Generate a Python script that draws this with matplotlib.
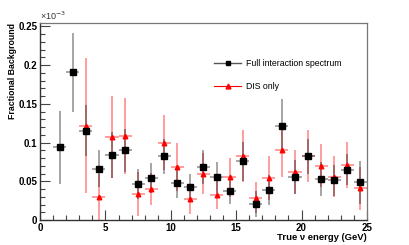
import numpy as np
import matplotlib
matplotlib.use("Agg")
import matplotlib.pyplot as plt
from matplotlib.ticker import MultipleLocator
from matplotlib.lines import Line2D

# data (values in units of 1e-3)
bins = [1.5, 2.5, 3.5, 4.5, 5.5, 6.5, 7.5, 8.5, 9.5, 10.5, 11.5, 12.5,
        13.5, 14.5, 15.5, 16.5, 17.5, 18.5, 19.5, 20.5, 21.5, 22.5, 23.5, 24.5]
full_vals = [0.094, 0.191, 0.115, 0.066, 0.084, 0.090, 0.0465, 0.054, 0.082, 0.048, 0.042, 0.0685,
             0.055, 0.0375, 0.076, 0.021, 0.039, 0.122, 0.0556, 0.082, 0.053, 0.0513, 0.065, 0.0487]
full_errs = [0.047, 0.051, 0.033, 0.024, 0.030, 0.028, 0.019, 0.019, 0.022, 0.020, 0.018, 0.022,
             0.020, 0.017, 0.025, 0.017, 0.019, 0.034, 0.022, 0.022, 0.022, 0.020, 0.020, 0.028]
dis_vals = [np.nan, np.nan, 0.122, 0.030, 0.107, 0.1085, 0.0336, 0.040, 0.100, 0.069, 0.027, 0.060,
            0.032, 0.055, 0.0827, 0.029, 0.054, 0.090, 0.062, 0.0827, 0.070, 0.056, 0.0707, 0.041]
dis_errs = [np.nan, np.nan, 0.087, 0.030, 0.053, 0.049, 0.028, 0.021, 0.035, 0.031, 0.019, 0.026,
            0.018, 0.025, 0.034, 0.020, 0.028, 0.034, 0.028, 0.033, 0.028, 0.026, 0.030, 0.028]
bin_half = 0.5

plt.rcParams['font.family'] = ['Liberation Sans', 'DejaVu Sans']

fig = plt.figure(figsize=(4.09, 2.45), dpi=100)
ax = fig.add_axes([0.098, 0.102, 0.799, 0.803])

# DIS only (red)
ax.errorbar(bins, dis_vals, yerr=dis_errs, xerr=bin_half, fmt='none',
            ecolor=(1, 0, 0, 0.45), elinewidth=1.2, capsize=0, zorder=2)
ax.plot(bins, dis_vals, linestyle='none', marker='^', color='red', markersize=3.3, zorder=4)

# Full interaction spectrum (black)
ax.errorbar(bins, full_vals, yerr=full_errs, xerr=bin_half, fmt='none',
            ecolor=(0, 0, 0, 0.38), elinewidth=1.3, capsize=0, zorder=3)
ax.plot(bins, full_vals, linestyle='none', marker='s', color='black', markersize=4, zorder=5)

ax.set_xlim(0, 25)
ax.set_ylim(0, 0.254)

ax.xaxis.set_minor_locator(MultipleLocator(1))
ax.yaxis.set_minor_locator(MultipleLocator(0.01))
ax.tick_params(which='both', direction='in', top=False, right=False, color='#444444')
ax.tick_params(which='major', length=7, width=0.8, labelsize=7, pad=2)
ax.tick_params(which='minor', length=3.5, width=0.8)
ax.set_yticks([0, 0.05, 0.1, 0.15, 0.2, 0.25])
ax.set_yticklabels(['0', '0.05', '0.1', '0.15', '0.2', '0.25'], fontweight='bold')
ax.set_xticks([0, 5, 10, 15, 20, 25])
ax.set_xticklabels(['0', '5', '10', '15', '20', '25'], fontweight='bold')

for s in ['left', 'bottom']:
    ax.spines[s].set_color('#333333')
    ax.spines[s].set_linewidth(1.0)
for s in ['top', 'right']:
    ax.spines[s].set_color('#777777')
    ax.spines[s].set_linewidth(0.9)

fig.text(13 / 409, 1 - 23 / 245, 'Fractional Background', fontsize=6.3, fontweight='bold',
         rotation=90, ha='center', va='top')
fig.text(367 / 409, 1 - 237 / 245, 'True \u03bd energy (GeV)', fontsize=6.8, fontweight='bold',
         ha='right', va='center')

fig.text(0.098, 0.912, '\u00d710$^{-3}$', fontsize=6.5, ha='left', va='bottom', color='#333333')

handles = [Line2D([], [], color='#555555', marker='s', markersize=3.5, markerfacecolor='black',
                  markeredgecolor='black', linewidth=1.0),
           Line2D([], [], color='red', marker='^', markersize=3.5, linewidth=0.8)]
ax.legend(handles, ['Full interaction spectrum', 'DIS only'], loc='upper left',
          bbox_to_anchor=(0.52, 0.84), frameon=False, fontsize=6.3,
          handlelength=3.0, handletextpad=0.6, labelspacing=1.55, borderpad=0)

fig.savefig('out.png', dpi=100)
